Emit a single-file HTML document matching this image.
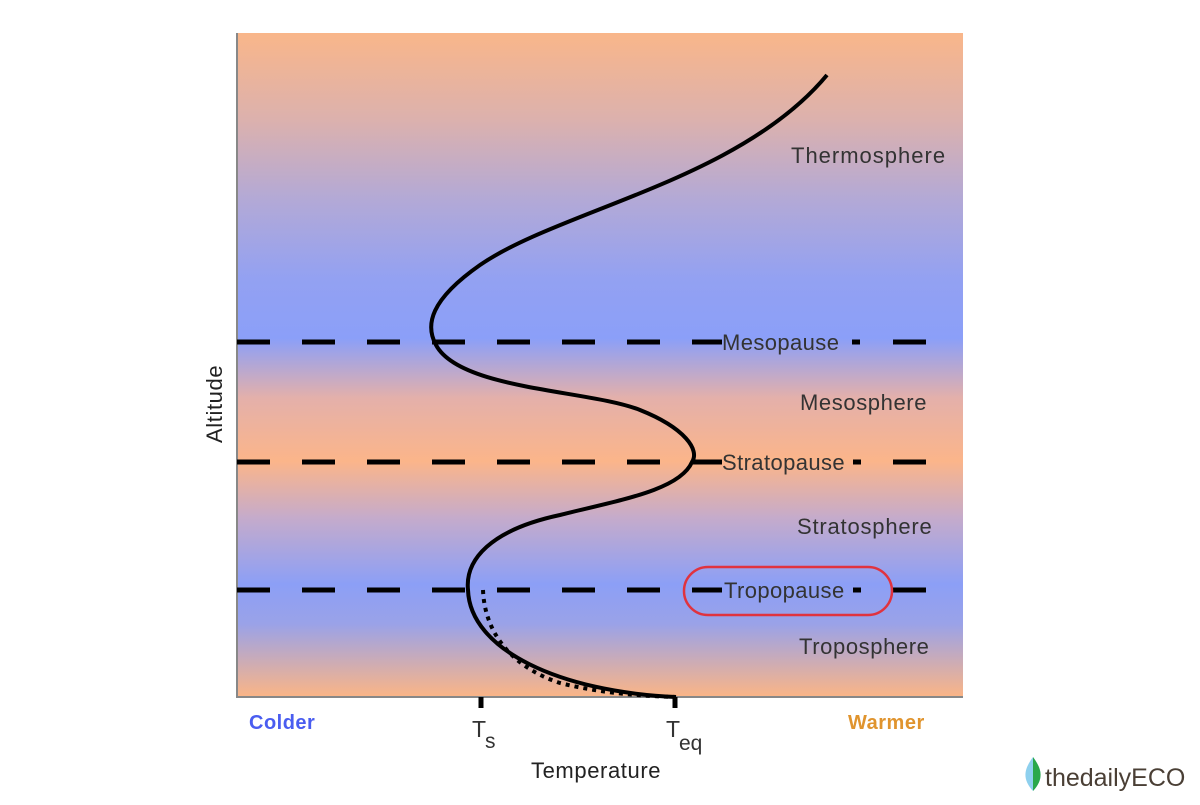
<!DOCTYPE html>
<html><head><style>body{margin:0;background:#fff}</style></head><body>
<svg width="1200" height="800" xmlns="http://www.w3.org/2000/svg" font-family="Liberation Sans, sans-serif">
<defs>
<linearGradient id="g" x1="0" y1="33" x2="0" y2="697" gradientUnits="userSpaceOnUse">
<stop offset="0" stop-color="#f9b68a"/>
<stop offset="0.13" stop-color="#dcb1ad"/>
<stop offset="0.25" stop-color="#b3a9d6"/>
<stop offset="0.37" stop-color="#93a1f2"/>
<stop offset="0.46" stop-color="#8b9ff8"/>
<stop offset="0.55" stop-color="#e4b0aa"/>
<stop offset="0.645" stop-color="#fbb58a"/>
<stop offset="0.73" stop-color="#c5abcb"/>
<stop offset="0.83" stop-color="#8c9ff6"/>
<stop offset="0.89" stop-color="#9aa2e8"/>
<stop offset="1" stop-color="#fbb586"/>
</linearGradient>
</defs>
<rect x="237" y="33" width="726" height="664" fill="url(#g)"/>
<path d="M237 33 V697 H963" fill="none" stroke="#888" stroke-width="2"/>
<g stroke="#000" stroke-width="5">
<line x1="237" y1="342" x2="722" y2="342" stroke-dasharray="33 32"/>
<line x1="237" y1="462" x2="722" y2="462" stroke-dasharray="33 32"/>
<line x1="237" y1="590" x2="722" y2="590" stroke-dasharray="33 32"/>
<line x1="852" y1="342" x2="860" y2="342"/><line x1="893" y1="342" x2="926" y2="342"/>
<line x1="853" y1="462" x2="861" y2="462"/><line x1="893" y1="462" x2="926" y2="462"/>
<line x1="853" y1="590" x2="861" y2="590"/><line x1="893" y1="590" x2="926" y2="590"/>
<line x1="481" y1="697" x2="481" y2="708"/><line x1="675" y1="697" x2="675" y2="708"/>
</g>
<path d="M827 75 C740 180 560 210 480 265 C430 300 425 325 436 345 C460 390 590 390 640 410 C685 428 700 450 692 462 C680 490 620 500 560 515 C490 530 465 560 468 590 C470 650 560 692 676 697" fill="none" stroke="#000" stroke-width="4"/>
<path d="M483 590 C485 640 520 670 560 683 C600 693 640 696 676 697" fill="none" stroke="#000" stroke-width="4" stroke-dasharray="4 5"/>
<g font-size="22" fill="#333" letter-spacing="1">
<text x="791" y="163">Thermosphere</text>
<text x="722" y="350" letter-spacing="0.4">Mesopause</text>
<text x="800" y="410" letter-spacing="0.6">Mesosphere</text>
<text x="722" y="470" letter-spacing="0.4">Stratopause</text>
<text x="797" y="534" letter-spacing="0.8">Stratosphere</text>
<text x="724" y="598" letter-spacing="0.4">Tropopause</text>
<text x="799" y="654" letter-spacing="0.6">Troposphere</text>
<text x="531" y="778" fill="#222" letter-spacing="0.6">Temperature</text>
<text x="472" y="737" font-size="23" letter-spacing="0">T</text><text x="485" y="748" font-size="21" letter-spacing="0">s</text>
<text x="666" y="737" font-size="23" letter-spacing="0">T</text><text x="679" y="750" font-size="21" letter-spacing="0">eq</text>
<text transform="translate(222 443) rotate(-90)" fill="#222" letter-spacing="0.6">Altitude</text>
</g>
<text x="249" y="729" font-size="20" font-weight="bold" fill="#4a5df0" letter-spacing="0.5">Colder</text>
<text x="848" y="729" font-size="20" font-weight="bold" fill="#e0942e" letter-spacing="0.5">Warmer</text>
<rect x="684" y="567" width="208" height="48" rx="24" fill="none" stroke="#e0333f" stroke-width="2.5"/>
<path d="M1033 757 C1025 768 1021 778 1033 791 C1045 778 1041 768 1033 757Z" fill="#8ed0ee"/>
<path d="M1033 757 C1041 768 1045 778 1033 791Z" fill="#29a84a"/>
<text x="1045" y="786" font-size="25" fill="#4a3f35">thedailyECO</text>
</svg>
</body></html>
